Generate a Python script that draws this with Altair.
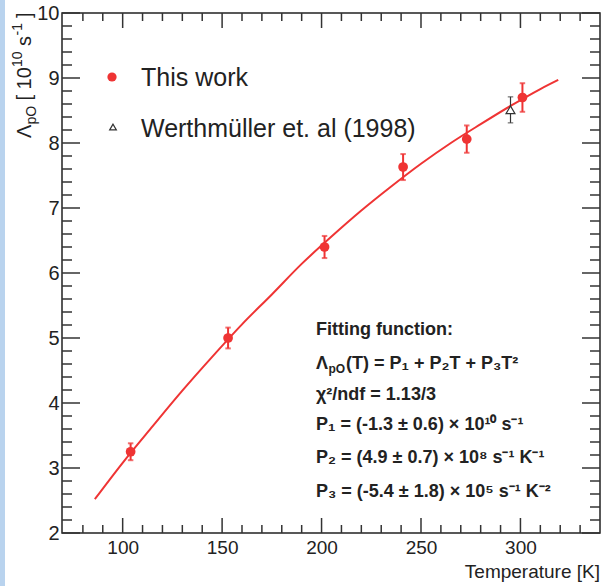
import altair as alt
import pandas as pd

# ---------------- data ----------------
T_this = [104, 153, 201.5, 241, 273, 301]
L_this = [3.25, 5.00, 6.40, 7.63, 8.06, 8.70]
E_this = [0.13, 0.16, 0.17, 0.20, 0.21, 0.22]

T_wert = [295]
L_wert = [8.51]
E_wert = [0.20]

fit_T = [86, 100, 115, 130, 145, 160, 175, 190, 205, 220, 235, 250, 265, 280, 295, 310, 319]
fit_L = [2.52, 3.08, 3.64, 4.19, 4.71, 5.21, 5.67, 6.14, 6.56, 6.96, 7.33, 7.68, 8.00, 8.29, 8.57, 8.83, 8.97]

x_major = [100, 150, 200, 250, 300]
x_minor = [80, 90, 110, 120, 130, 140, 160, 170, 180, 190, 210, 220, 230, 240,
           260, 270, 280, 290, 310, 320, 330]
y_major = [2, 3, 4, 5, 6, 7, 8, 9, 10]
y_minor = [2.2, 2.4, 2.6, 2.8, 3.2, 3.4, 3.6, 3.8, 4.2, 4.4, 4.6, 4.8,
           5.2, 5.4, 5.6, 5.8, 6.2, 6.4, 6.6, 6.8, 7.2, 7.4, 7.6, 7.8,
           8.2, 8.4, 8.6, 8.8, 9.2, 9.4, 9.6, 9.8]

legend_labels = ["This work", "Werthmüller et. al (1998)"]
fit_lines = [
    "Fitting function:",
    "χ²/ndf = 1.13/3",
    "P₁ = (-1.3 ± 0.6) × 10¹⁰ s⁻¹",
    "P₂ = (4.9 ± 0.7) × 10⁸ s⁻¹ K⁻¹",
    "P₃ = (-5.4 ± 1.8) × 10⁵ s⁻¹ K⁻²",
]

# ---------------- layout ----------------
W, H = 538, 520
PL, PT = 62, 13
RED = "#ef3434"
INK = "#222222"
FONT = "Liberation Sans"

xs = alt.Scale(domain=[69.5, 340], nice=False, zero=False)
ys = alt.Scale(domain=[2, 10], nice=False, zero=False)

xa = alt.Axis(values=x_major, ticks=False, tickSize=0, domain=False, grid=False,
              labelFontSize=19, labelFont=FONT, labelColor=INK, labelPadding=5, title=None)
ya = alt.Axis(values=y_major, ticks=False, tickSize=0, domain=False, grid=False,
              labelFontSize=20, labelFont=FONT, labelColor=INK, labelPadding=3, title=None)

df_this = pd.DataFrame({"T": T_this, "L": L_this,
                        "lo": [v - e for v, e in zip(L_this, E_this)],
                        "hi": [v + e for v, e in zip(L_this, E_this)]})
df_wert = pd.DataFrame({"T": T_wert, "L": L_wert,
                        "lo": [v - e for v, e in zip(L_wert, E_wert)],
                        "hi": [v + e for v, e in zip(L_wert, E_wert)]})
df_fit = pd.DataFrame({"T": fit_T, "L": fit_L})

X = lambda f="T": alt.X(f + ":Q", scale=xs, axis=xa)
Y = lambda f="L": alt.Y(f + ":Q", scale=ys, axis=ya)

one = pd.DataFrame({"a": [0]})


def text(s, sx, sy, size, bold=False, angle=0, align="left", color=INK):
    kw = dict(fontSize=size, font=FONT, align=align, baseline="alphabetic",
              color=color, fontWeight="bold" if bold else "normal")
    if angle:
        kw["angle"] = angle
    return alt.Chart(one).mark_text(**kw).encode(
        x=alt.value(sx - PL), y=alt.value(sy - PT), text=alt.value(s))


# fit curve
fit = alt.Chart(df_fit).mark_line(color=RED, strokeWidth=2, interpolate="monotone").encode(
    x=X(), y=Y())

cap = "M-1,0L1,0"

wert_err = alt.Chart(df_wert).mark_rule(color="#333333", strokeWidth=1.2).encode(x=X(), y=Y("lo"), y2="hi")
wert_cap_lo = alt.Chart(df_wert).mark_point(shape=cap, size=30, color="#333333", strokeWidth=1.2).encode(x=X(), y=Y("lo"))
wert_cap_hi = alt.Chart(df_wert).mark_point(shape=cap, size=30, color="#333333", strokeWidth=1.2).encode(x=X(), y=Y("hi"))
wert_pt = alt.Chart(df_wert).mark_point(shape="triangle-up", size=80, filled=True, fill="white",
                                        stroke="#333333", strokeWidth=1.2, opacity=1).encode(x=X(), y=Y())

this_err = alt.Chart(df_this).mark_rule(color=RED, strokeWidth=2).encode(x=X(), y=Y("lo"), y2="hi")
this_cap_lo = alt.Chart(df_this).mark_point(shape=cap, size=30, color=RED, strokeWidth=2).encode(x=X(), y=Y("lo"))
this_cap_hi = alt.Chart(df_this).mark_point(shape=cap, size=30, color=RED, strokeWidth=2).encode(x=X(), y=Y("hi"))
this_pt = alt.Chart(df_this).mark_point(shape="circle", size=95, filled=True, color=RED, opacity=1).encode(x=X(), y=Y())

# inward ticks on all four sides
TK = "#333333"
def xt(vals, y0, y1):
    return alt.Chart(pd.DataFrame({"T": vals})).mark_rule(color=TK, strokeWidth=1.5).encode(
        x=X("T"), y=alt.value(y0), y2=alt.value(y1))
def yt(vals, x0, x1):
    return alt.Chart(pd.DataFrame({"L": vals})).mark_rule(color=TK, strokeWidth=1.5).encode(
        y=Y("L"), x=alt.value(x0), x2=alt.value(x1))

ticks = [xt(x_major, H, H - 15), xt(x_minor, H, H - 8),
         xt(x_major, 0, 15), xt(x_minor, 0, 8),
         yt(y_major, 0, 18), yt(y_minor, 0, 10),
         yt(y_major, W, W - 18), yt(y_minor, W, W - 10)]

# left decorative strip
strip = alt.Chart(one).mark_rect(color="#b9d3ee").encode(
    x=alt.value(-PL), x2=alt.value(-PL + 5), y=alt.value(-PT), y2=alt.value(586 - PT))

# legend
leg_dot = alt.Chart(one).mark_point(shape="circle", size=85, filled=True, color=RED, opacity=1).encode(
    x=alt.value(112 - PL), y=alt.value(77 - PT))
leg_tri = alt.Chart(one).mark_point(shape="triangle-up", size=45, filled=True, fill="white",
                                    stroke="#333333", strokeWidth=1.2, opacity=1).encode(
    x=alt.value(113 - PL), y=alt.value(127 - PT))
leg_t1 = text(legend_labels[0], 141, 86, 25)
leg_t2 = text(legend_labels[1], 141, 137, 25)

# y-axis title: Λ_pO [ 10^10 s^-1 ]
ytitle = [
    text("Λ", 31, 138, 20, angle=270),
    text("pO", 36, 124.5, 14, angle=270),
    text("[ 10", 31, 100.5, 20, angle=270),
    text("10", 22, 67, 14, angle=270),
    text("s", 31, 46, 20, angle=270),
    text("-1", 22, 35.5, 14, angle=270),
    text("]", 31, 18, 20, angle=270),
]

xtitle = text("Temperature [K]", 600, 578, 19, align="right")

# fit box text
fx = 316
fit_txt = [
    text(fit_lines[0], fx, 335, 18, bold=True),
    text("Λ", fx, 369, 18, bold=True),
    text("pO", fx + 12.5, 373, 12, bold=True),
    text("(T) = P₁ + P₂T + P₃T²", fx + 30, 369, 18, bold=True),
    text(fit_lines[1], fx, 400, 18, bold=True),
    text(fit_lines[2], fx, 430, 18, bold=True),
    text(fit_lines[3], fx, 463, 18, bold=True),
    text(fit_lines[4], fx, 497, 18, bold=True),
]

chart = alt.layer(
    fit, *ticks, wert_err, wert_cap_lo, wert_cap_hi, wert_pt,
    this_err, this_cap_lo, this_cap_hi, this_pt,
    strip, leg_dot, leg_tri, leg_t1, leg_t2, *ytitle, xtitle, *fit_txt,
).properties(
    width=W, height=H,
    autosize=alt.AutoSizeParams(type="none"),
    padding={"left": PL, "top": PT, "right": 603 - PL - W, "bottom": 586 - PT - H},
    background="white",
).configure_view(stroke=INK, strokeWidth=1.5)

chart.save("out.html", embed_options={"renderer": "svg", "actions": False})
